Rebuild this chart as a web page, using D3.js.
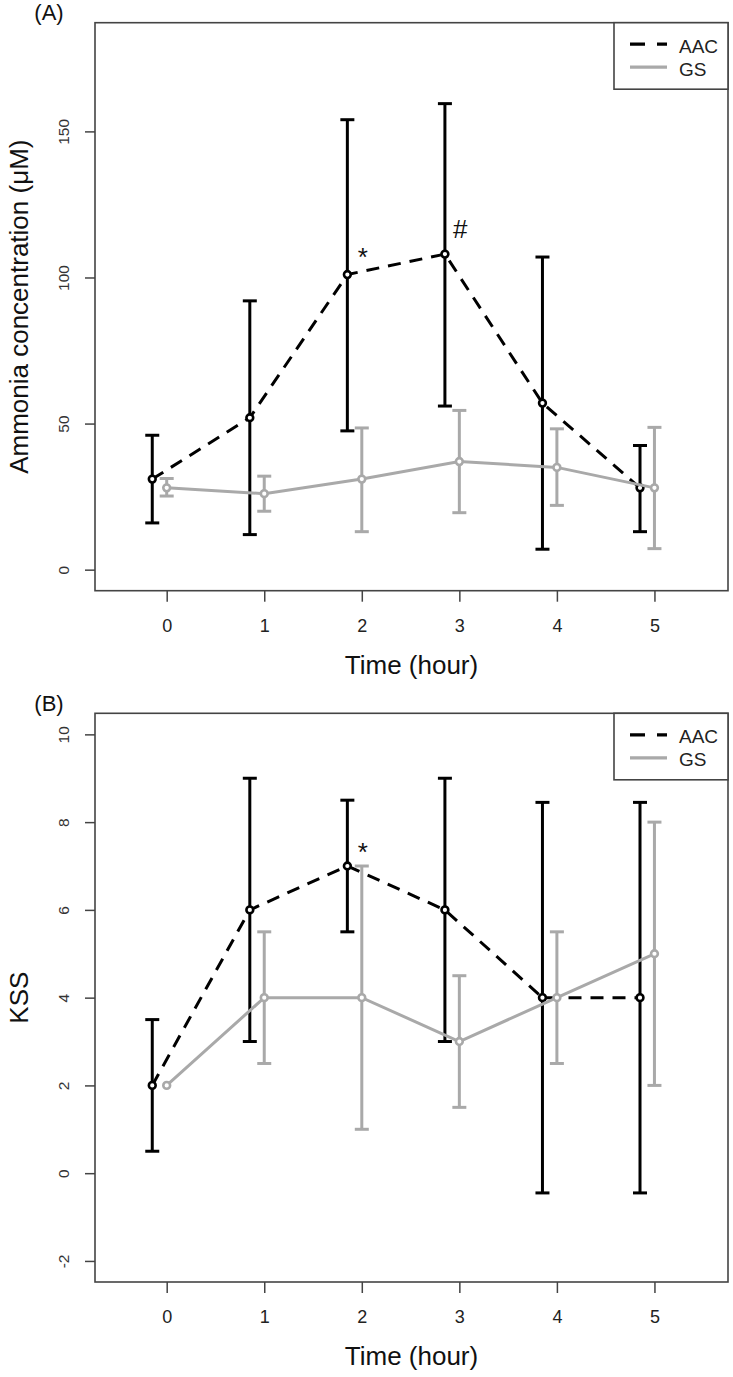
<!DOCTYPE html>
<html><head><meta charset="utf-8">
<script src="https://cdn.jsdelivr.net/npm/d3@7"></script>
<style>
html,body{margin:0;padding:0;background:#fff;}
svg{display:block;font-family:"Liberation Sans",Arial,sans-serif;}
</style></head>
<body>
<script>
// ---- data ----
const times = [0, 1, 2, 3, 4, 5];
const xTickLabels = ["0", "1", "2", "3", "4", "5"];
const seriesNames = ["AAC", "GS"];

const aacAmmonia     = [31, 52, 101, 108, 57, 28];
const aacAmmoniaLow  = [16, 12, 47.5, 56, 7, 13];
const aacAmmoniaHigh = [46, 92, 154, 159.5, 107, 42.5];
const gsAmmonia      = [28, 26, 31, 37, 35, 28];
const gsAmmoniaLow   = [25.2, 20, 13, 19.5, 22, 7.2];
const gsAmmoniaHigh  = [31.2, 32, 48.5, 54.5, 48.2, 48.7];
const ammoniaTicks   = [0, 50, 100, 150];
const ammoniaLimits  = [0, 180];
const ammoniaMarks   = [{t: 2, v: 109, s: "*"}, {t: 3, v: 116.5, s: "#"}];

const aacKSS     = [2, 6, 7, 6, 4, 4];
const aacKSSLow  = [0.5, 3, 5.5, 3, -0.45, -0.45];
const aacKSSHigh = [3.5, 9, 8.5, 9, 8.45, 8.45];
const gsKSS      = [2, 4, 4, 3, 4, 5];
const gsKSSLow   = [2, 2.5, 1, 1.5, 2.5, 2];
const gsKSSHigh  = [2, 5.5, 7, 4.5, 5.5, 8];
const kssTicks   = [-2, 0, 2, 4, 6, 8, 10];
const kssLimits  = [-2, 10];
const kssMarks   = [{t: 2, v: 7.45, s: "*"}];

// ---- layout ----
const W = 733, H = 1377;
const svg = d3.select("body").append("svg").attr("width", W).attr("height", H);
const left = 95, right = 728;
const aacOffset = -0.148;
const black = "#000", gray = "#a9a9a9", frame = "#444";

const x = d3.scaleLinear().domain([-0.735, 5.754]).range([left, right]);

function ext(lim) { const r = lim[1] - lim[0]; return [lim[0] - 0.04 * r, lim[1] + 0.04 * r]; }

function panel(cfg) {
  const g = svg.append("g");
  const y = d3.scaleLinear().domain(ext(cfg.limits)).range([cfg.bottom, cfg.top]);

  // axes
  const xa = g.append("g").attr("transform", `translate(0,${cfg.bottom})`)
    .call(d3.axisBottom(x).tickValues(times).tickFormat((d, i) => xTickLabels[i]).tickSize(11).tickSizeOuter(0));
  xa.select(".domain").remove();
  xa.selectAll(".tick line").attr("stroke", frame).attr("stroke-width", 1.5);
  xa.selectAll(".tick text").attr("font-size", 18).attr("fill", "#222").attr("y", 0).attr("dy", 0)
    .attr("transform", "translate(0,41)");

  const ya = g.append("g").attr("transform", `translate(${left},0)`)
    .call(d3.axisLeft(y).tickValues(cfg.ticks).tickFormat(d => d < 0 ? "-" + Math.abs(d) : String(d)).tickSize(10).tickSizeOuter(0));
  ya.select(".domain").remove();
  ya.selectAll(".tick line").attr("stroke", frame).attr("stroke-width", 1.5);
  ya.selectAll(".tick text").attr("font-size", 15.5).attr("fill", "#333")
    .attr("x", 0).attr("dy", 0).attr("text-anchor", "middle").attr("dominant-baseline", "central")
    .attr("transform", "translate(-32,0) rotate(-90)");

  // frame
  g.append("rect").attr("x", left).attr("y", cfg.top).attr("width", right - left).attr("height", cfg.bottom - cfg.top)
    .attr("fill", "none").attr("stroke", frame).attr("stroke-width", 1.6);

  // titles
  g.append("text").attr("x", (left + right) / 2).attr("y", cfg.bottom + 83).attr("text-anchor", "middle")
    .attr("font-size", 26).attr("fill", "#111").text("Time (hour)");
  g.append("text").attr("transform", `translate(19,${(cfg.top + cfg.bottom) / 2}) rotate(-90)`)
    .attr("text-anchor", "middle").attr("dominant-baseline", "central")
    .attr("font-size", 26).attr("fill", "#111").text(cfg.ylab);
  g.append("text").attr("x", 49).attr("y", cfg.top - 2.5).attr("text-anchor", "middle")
    .attr("font-size", 22).attr("fill", "#111").text(cfg.tag);

  function series(vals, lo, hi, off, color, dashed) {
    const pts = times.map((t, i) => ({t: t + off, v: vals[i], lo: lo[i], hi: hi[i]}));
    const eb = g.append("g").attr("stroke", color).attr("stroke-width", 3);
    pts.forEach(p => {
      if (p.hi - p.lo <= 0) return;
      eb.append("line").attr("x1", x(p.t)).attr("x2", x(p.t)).attr("y1", y(p.lo)).attr("y2", y(p.hi));
      [p.lo, p.hi].forEach(e => eb.append("line").attr("x1", x(p.t) - 7).attr("x2", x(p.t) + 7).attr("y1", y(e)).attr("y2", y(e)));
    });
    g.append("path").datum(pts).attr("fill", "none").attr("stroke", color).attr("stroke-width", 3)
      .attr("stroke-dasharray", dashed ? "13,9" : null)
      .attr("d", d3.line().x(d => x(d.t)).y(d => y(d.v)));
    g.append("g").selectAll("circle").data(pts).join("circle")
      .attr("cx", d => x(d.t)).attr("cy", d => y(d.v)).attr("r", 3.4)
      .attr("fill", "#fff").attr("stroke", color).attr("stroke-width", 2.6);
  }
  series(cfg.aac, cfg.aacLo, cfg.aacHi, aacOffset, black, true);
  series(cfg.gs, cfg.gsLo, cfg.gsHi, 0, gray, false);

  // significance marks (glyph-center correction in em)
  const centerShift = {"*": 0.57, "#": 0.35};
  g.selectAll("text.mark").data(cfg.marks).join("text").attr("class", "mark")
    .attr("x", d => x(d.t) + 1).attr("y", d => y(d.v)).attr("dy", d => (centerShift[d.s] || 0.35) + "em")
    .attr("text-anchor", "middle")
    .attr("font-size", 26).attr("fill", "#111").text(d => d.s);

  // legend
  const lg = g.append("g");
  const lx = 614, lw = right - lx, lh = 66.5;
  lg.append("rect").attr("x", lx).attr("y", cfg.top).attr("width", lw).attr("height", lh)
    .attr("fill", "#fff").attr("stroke", frame).attr("stroke-width", 1.6);
  const rows = [{name: seriesNames[0], color: black, dash: "15,12"}, {name: seriesNames[1], color: gray, dash: null}];
  rows.forEach((r, i) => {
    const cy = cfg.top + 21.5 + i * 23;
    lg.append("line").attr("x1", 630).attr("x2", 667).attr("y1", cy).attr("y2", cy)
      .attr("stroke", r.color).attr("stroke-width", 3.2).attr("stroke-dasharray", r.dash);
    lg.append("text").attr("x", 679).attr("y", cy + 2).attr("dominant-baseline", "central")
      .attr("font-size", 19).attr("fill", "#222").text(r.name);
  });
}

panel({top: 22.7, bottom: 590.7, limits: ammoniaLimits, ticks: ammoniaTicks, tag: "(A)",
  ylab: "Ammonia concentration (μM)",
  aac: aacAmmonia, aacLo: aacAmmoniaLow, aacHi: aacAmmoniaHigh,
  gs: gsAmmonia, gsLo: gsAmmoniaLow, gsHi: gsAmmoniaHigh, marks: ammoniaMarks});

panel({top: 713.3, bottom: 1282, limits: kssLimits, ticks: kssTicks, tag: "(B)",
  ylab: "KSS",
  aac: aacKSS, aacLo: aacKSSLow, aacHi: aacKSSHigh,
  gs: gsKSS, gsLo: gsKSSLow, gsHi: gsKSSHigh, marks: kssMarks});
</script>
</body></html>
